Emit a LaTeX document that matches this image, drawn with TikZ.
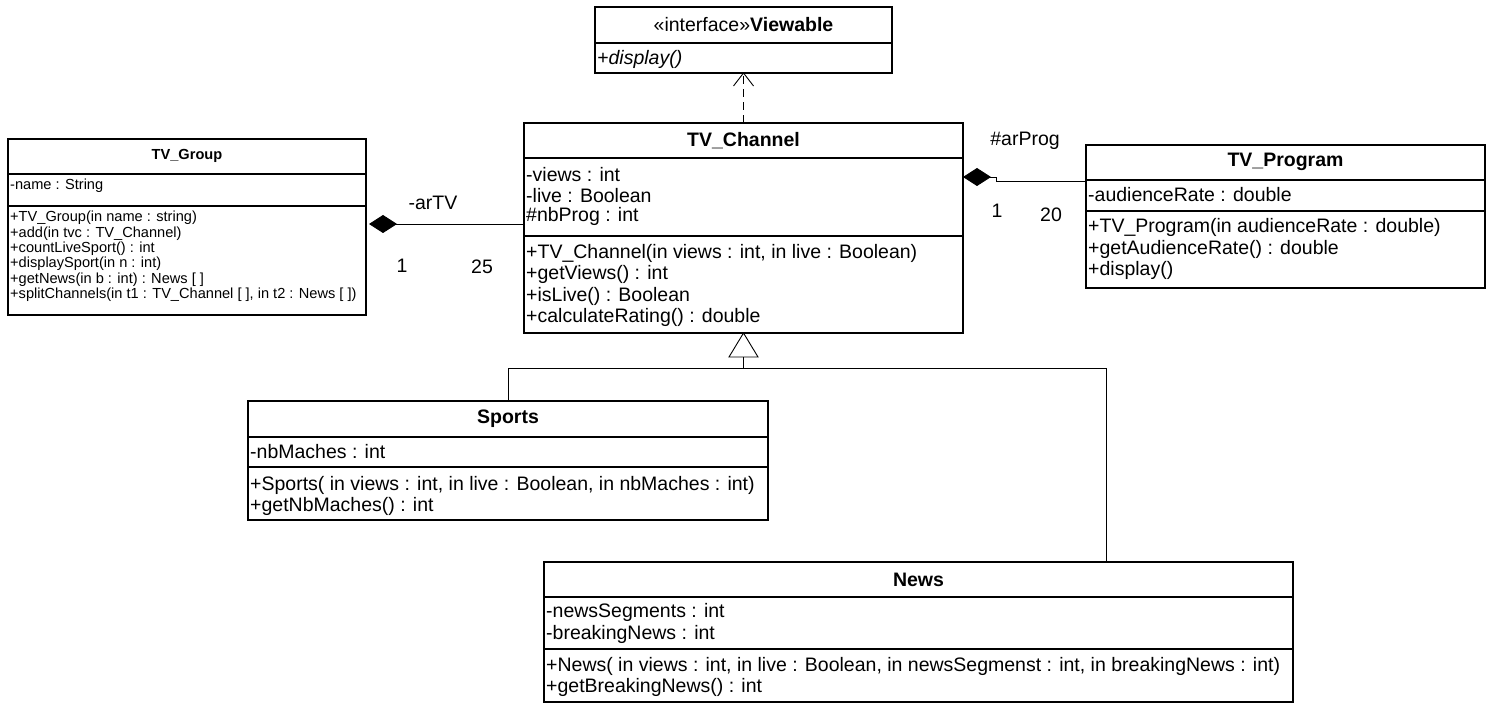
\documentclass[tikz,border=0pt]{standalone}
\usepackage{fontspec}
\setmainfont{Liberation Sans}
\usetikzlibrary{arrows.meta,calc}
\begin{document}
\begin{tikzpicture}[x=1pt,y=-1pt,
  box/.style={draw,line width=1.3pt,inner sep=0,outer sep=0,anchor=north west},
  div/.style={line width=1.1pt},
  txt/.style={anchor=west,inner sep=0,font=\fontsize{19.5}{22}\selectfont},
  itxt/.style={anchor=west,inner sep=0,font=\fontsize{19.5}{22}\selectfont\itshape},
  stxt/.style={anchor=west,inner sep=0,font=\fontsize{14.6}{17}\selectfont},
  ttl/.style={inner sep=0,font=\fontsize{19.5}{22}\selectfont\bfseries},
  sttl/.style={inner sep=0,font=\fontsize{14.6}{17}\selectfont\bfseries},
  conn/.style={line width=0.9pt},
  lbl/.style={inner sep=0,font=\fontsize{19.5}{22}\selectfont},
  comp/.style={conn,{Diamond[length=28pt,width=18pt]}-},
]
\useasboundingbox (0,0) rectangle (1494,703);

% ---------- Viewable ----------
\node[box,minimum width=297pt,minimum height=66pt] (view) at (595,7) {};
\draw[div] (595,43) -- (892,43);
\node[lbl] (viewT) at (743.5,25) {«interface»\textbf{Viewable}};
\node[itxt] (viewO) at (597,59) {+display()};

% ---------- TV_Channel ----------
\node[box,minimum width=439pt,minimum height=210pt] (tvc) at (524,123) {};
\draw[div] (524,158) -- (963,158);
\draw[div] (524,236) -- (963,236);
\node[ttl] (tvcT) at (743.5,141) {TV\_Channel};
\node[txt] (tvcA1) at (526,175) {-views : int};
\node[txt] (tvcA2) at (526,195.5) {-live : Boolean};
\node[txt] (tvcA3) at (526,216) {\#nbProg : int};
\node[txt] (tvcO1) at (526,253) {+TV\_Channel(in views : int, in live : Boolean)};
\node[txt] (tvcO2) at (526,274.5) {+getViews() : int};
\node[txt] (tvcO3) at (526,296) {+isLive() : Boolean};
\node[txt] (tvcO4) at (526,317.5) {+calculateRating() : double};

% ---------- TV_Group ----------
\node[box,minimum width=358pt,minimum height=176pt] (grp) at (8,139) {};
\draw[div] (8,174) -- (366,174);
\draw[div] (8,206) -- (366,206);
\node[sttl] (grpT) at (187,156) {TV\_Group};
\node[stxt] (grpA1) at (10,186) {-name : String};
\node[stxt] (grpO1) at (10,218) {+TV\_Group(in name : string)};
\node[stxt] (grpO2) at (10,233.4) {+add(in tvc : TV\_Channel)};
\node[stxt] (grpO3) at (10,248.8) {+countLiveSport() : int};
\node[stxt] (grpO4) at (10,264.2) {+displaySport(in n : int)};
\node[stxt] (grpO5) at (10,279.6) {+getNews(in b : int) : News [ ]};
\node[stxt] (grpO6) at (10,295) {+splitChannels(in t1 : TV\_Channel [ ], in t2 : News [ ])};

% ---------- TV_Program ----------
\node[box,minimum width=399pt,minimum height=143pt] (prog) at (1086,145) {};
\draw[div] (1086,180) -- (1485,180);
\draw[div] (1086,211) -- (1485,211);
\node[ttl] (progT) at (1285.5,162) {TV\_Program};
\node[txt] (progA1) at (1088,195) {-audienceRate : double};
\node[txt] (progO1) at (1088,227) {+TV\_Program(in audienceRate : double)};
\node[txt] (progO2) at (1088,249) {+getAudienceRate() : double};
\node[txt] (progO3) at (1088,270) {+display()};

% ---------- Sports ----------
\node[box,minimum width=520pt,minimum height=119pt] (sports) at (248,401) {};
\draw[div] (248,437) -- (768,437);
\draw[div] (248,467) -- (768,467);
\node[ttl] (sportsT) at (508,419) {Sports};
\node[txt] (sportsA1) at (250,452) {-nbMaches : int};
\node[txt] (sportsO1) at (250,485) {+Sports( in views : int, in live : Boolean, in nbMaches : int)};
\node[txt] (sportsO2) at (250,506) {+getNbMaches() : int};

% ---------- News ----------
\node[box,minimum width=749pt,minimum height=140pt] (news) at (544,562) {};
\draw[div] (544,597) -- (1293,597);
\draw[div] (544,649) -- (1293,649);
\node[ttl] (newsT) at (918.5,580) {News};
\node[txt] (newsA1) at (546,612) {-newsSegments : int};
\node[txt] (newsA2) at (546,634) {-breakingNews : int};
\node[txt] (newsO1) at (546,666) {+News( in views : int, in live : Boolean, in newsSegmenst : int, in breakingNews : int)};
\node[txt] (newsO2) at (546,687) {+getBreakingNews() : int};

% ---------- realization TV_Channel -> Viewable ----------
\draw[conn,dash pattern=on 8pt off 5pt] (tvc.north) -- (view.south);
\draw[conn] ($(view.south)+(-10,13)$) -- (view.south) -- ($(view.south)+(10,13)$);

% ---------- generalization ----------
\coordinate (trib) at ($(tvc.south)+(0,24)$);
\coordinate (junc) at ($(tvc.south)+(0,35)$);
\draw[conn,fill=white] (tvc.south) -- ($(trib)+(-14.5,0)$) -- ($(trib)+(14.5,0)$) -- cycle;
\draw[conn] (trib) -- (junc);
\draw[conn] (junc) -| (sports.north);
\draw[conn] (junc) -| ($(news.north)+(187.5,0)$);

% ---------- composition TV_Group <>- TV_Channel ----------
\coordinate (atv) at ($(tvc.west)+(0,-4)$);
\draw[comp] ($(grp.east |- atv)+(3,0)$) -- (atv);
\node[lbl] (arTV) at (433,203) {-arTV};
\node[lbl] (mA1) at (402,266) {1};
\node[lbl] (mA2) at (482,267) {25};

% ---------- composition TV_Channel <>- TV_Program ----------
\coordinate (pA) at ($(tvc.north east)+(0,54)$);
\coordinate (pB) at ($(prog.north west)+(0,36)$);
\draw[comp] (pA) -- ++(33,0) |- (pB);
\node[lbl] (arProg) at (1025,141) {\#arProg};
\node[lbl] (mP1) at (997,211) {1};
\node[lbl] (mP2) at (1051,215) {20};
\end{tikzpicture}
\end{document}
